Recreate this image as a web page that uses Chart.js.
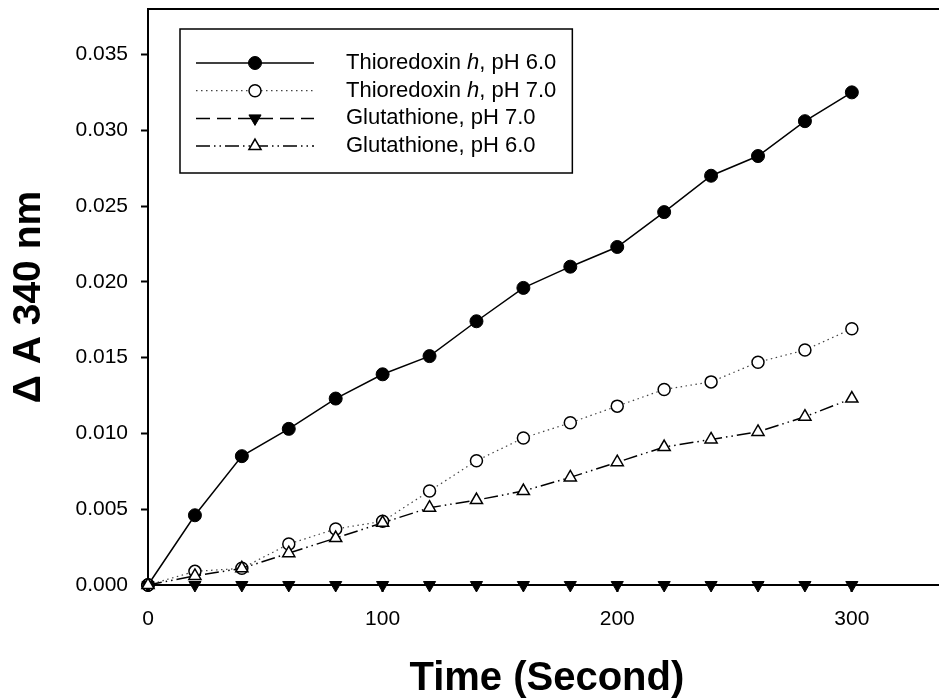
<!DOCTYPE html>
<html>
<head>
<meta charset="utf-8">
<script src="https://cdn.jsdelivr.net/npm/chart.js@4/dist/chart.umd.min.js"></script>
<style>
  html, body { margin: 0; padding: 0; background: #fff; overflow: hidden; }
  #wrap { width: 939px; height: 700px; overflow: hidden; position: relative; }
  canvas { display: block; }
</style>
</head>
<body>
<div id="wrap"><canvas id="c" width="960" height="700"></canvas></div>
<script>
// ---- data ----
const times   = [0, 20, 40, 60, 80, 100, 120, 140, 160, 180, 200, 220, 240, 260, 280, 300];
const trxPH6  = [0, 0.0046, 0.0085, 0.0103, 0.0123, 0.0139, 0.0151, 0.0174, 0.0196, 0.0210, 0.0223, 0.0246, 0.0270, 0.0283, 0.0306, 0.0325];
const trxPH7  = [0, 0.0009, 0.0011, 0.0027, 0.0037, 0.0042, 0.0062, 0.0082, 0.0097, 0.0107, 0.0118, 0.0129, 0.0134, 0.0147, 0.0155, 0.0169];
const gshPH7  = [0, 0, 0, 0, 0, 0, 0, 0, 0, 0, 0, 0, 0, 0, 0, 0];
const gshPH6  = [0, 0.0006, 0.0011, 0.0021, 0.0031, 0.0041, 0.0051, 0.0056, 0.0062, 0.0071, 0.0081, 0.0091, 0.0096, 0.0101, 0.0111, 0.0123];
const xTicks  = [0, 100, 200, 300];
const yTicks  = [0, 0.005, 0.010, 0.015, 0.020, 0.025, 0.030, 0.035];
const legendParts = [
  ['Thioredoxin ', 'h', ', pH 6.0'],
  ['Thioredoxin ', 'h', ', pH 7.0'],
  ['Glutathione, pH 7.0', '', ''],
  ['Glutathione, pH 6.0', '', '']
];
const xTitle = 'Time (Second)';
const yTitle = '\u0394 A 340 nm';

const FAM = "'Liberation Sans', Arial, Helvetica, sans-serif";
const LFS = 22;
const pts = arr => times.map((t, i) => ({ x: t, y: arr[i] }));

const legendPlugin = {
  id: 'boxLegend',
  afterDraw(chart) {
    const ctx = chart.ctx;
    const dsets = chart.data.datasets;
    ctx.save();
    let maxW = 0;
    legendParts.forEach(p => {
      ctx.font = LFS + 'px ' + FAM; let w = ctx.measureText(p[0]).width + ctx.measureText(p[2]).width;
      ctx.font = 'italic ' + LFS + 'px ' + FAM; w += ctx.measureText(p[1]).width;
      maxW = Math.max(maxW, w);
    });
    const bx = 180, by = 29, textX = 346;
    const bw = textX + maxW + 16 - bx, bh = 144;
    ctx.fillStyle = '#fff';
    ctx.fillRect(bx, by, bw, bh);
    ctx.setLineDash([]);
    ctx.lineWidth = 1.5;
    ctx.strokeStyle = '#000';
    ctx.strokeRect(bx, by, bw, bh);
    dsets.forEach((ds, i) => {
      const y = 63 + i * 27.7;
      ctx.save();
      ctx.setLineDash(ds.borderDash || []);
      ctx.lineWidth = ds.borderWidth;
      ctx.strokeStyle = ds.borderColor;
      ctx.beginPath(); ctx.moveTo(196, y); ctx.lineTo(314, y); ctx.stroke();
      ctx.restore();
      ctx.save();
      ctx.setLineDash([]);
      ctx.fillStyle = ds.pointBackgroundColor;
      ctx.strokeStyle = ds.pointBorderColor;
      ctx.lineWidth = ds.pointBorderWidth;
      Chart.helpers.drawPoint(ctx, {
        pointStyle: ds.pointStyle, radius: ds.pointRadius,
        rotation: ds.pointRotation || 0, borderWidth: ds.pointBorderWidth
      }, 255, y);
      ctx.restore();
      const p = legendParts[i];
      ctx.fillStyle = '#000';
      ctx.textBaseline = 'middle';
      ctx.textAlign = 'left';
      let x = textX;
      ctx.font = LFS + 'px ' + FAM; ctx.fillText(p[0], x, y); x += ctx.measureText(p[0]).width;
      ctx.font = 'italic ' + LFS + 'px ' + FAM; ctx.fillText(p[1], x, y); x += ctx.measureText(p[1]).width;
      ctx.font = LFS + 'px ' + FAM; ctx.fillText(p[2], x, y);
    });
    ctx.restore();
  }
};

const framePlugin = {
  id: 'frameTop',
  afterDraw(chart) {
    const { ctx, chartArea } = chart;
    ctx.save();
    ctx.strokeStyle = '#000';
    ctx.lineWidth = 2;
    ctx.setLineDash([]);
    ctx.beginPath();
    ctx.moveTo(chartArea.left - 1, chartArea.top);
    ctx.lineTo(chart.width, chartArea.top);
    ctx.stroke();
    ctx.restore();
  }
};

const common = { clip: false, fill: false, tension: 0, pointHoverRadius: 7 };

new Chart(document.getElementById('c'), {
  type: 'line',
  data: {
    datasets: [
      Object.assign({}, common, {
        label: 'Thioredoxin h, pH 6.0', data: pts(trxPH6), order: 4,
        borderColor: '#000', borderWidth: 1.5, borderDash: [],
        pointStyle: 'circle', pointRadius: 6.5, pointBackgroundColor: '#000', pointBorderColor: '#000', pointBorderWidth: 1
      }),
      Object.assign({}, common, {
        label: 'Thioredoxin h, pH 7.0', data: pts(trxPH7), order: 3,
        borderColor: '#444', borderWidth: 1.2, borderDash: [1.5, 3.5],
        pointStyle: 'circle', pointRadius: 6, pointBackgroundColor: '#fff', pointBorderColor: '#000', pointBorderWidth: 1.5
      }),
      Object.assign({}, common, {
        label: 'Glutathione, pH 7.0', data: pts(gshPH7), order: 2,
        borderColor: '#000', borderWidth: 1.5, borderDash: [14, 7],
        pointStyle: 'triangle', pointRotation: 180, pointRadius: 7, pointBackgroundColor: '#000', pointBorderColor: '#000', pointBorderWidth: 1
      }),
      Object.assign({}, common, {
        label: 'Glutathione, pH 6.0', data: pts(gshPH6), order: 1,
        borderColor: '#000', borderWidth: 1.5, borderDash: [14, 4, 1.5, 4, 1.5, 4],
        pointStyle: 'triangle', pointRadius: 7, pointBackgroundColor: '#fff', pointBorderColor: '#000', pointBorderWidth: 1.5
      })
    ]
  },
  options: {
    responsive: false,
    animation: false,
    devicePixelRatio: 1,
    events: [],
    layout: { padding: { top: 9, right: 14.3, left: 0, bottom: 0 } },
    plugins: { legend: { display: false }, tooltip: { enabled: false } },
    scales: {
      x: {
        type: 'linear', min: 0, max: 340,
        afterBuildTicks: s => { s.ticks = xTicks.map(v => ({ value: v })); },
        afterFit: s => { s.height = 115; s.paddingLeft = 0; s.paddingRight = 0; },
        grid: { drawOnChartArea: false, drawTicks: true, tickLength: 7, tickWidth: 2, color: '#000' },
        border: { display: true, color: '#000', width: 2 },
        ticks: { color: '#000', font: { family: FAM, size: 21 }, padding: 15, maxRotation: 0, autoSkip: false },
        title: { display: true, text: xTitle, color: '#000', font: { family: FAM, size: 40, weight: 'bold', lineHeight: 1 }, padding: { top: 0, bottom: 1 } }
      },
      y: {
        type: 'linear', min: 0, max: 0.038,
        afterBuildTicks: s => { s.ticks = yTicks.map(v => ({ value: v })); },
        afterFit: s => { s.width = 148; s.paddingTop = 0; s.paddingBottom = 0; },
        grid: { drawOnChartArea: false, drawTicks: true, tickLength: 7, tickWidth: 2, color: '#000' },
        border: { display: true, color: '#000', width: 2 },
        ticks: { color: '#000', font: { family: FAM, size: 21 }, padding: 13, autoSkip: false, callback: v => Number(v).toFixed(3) },
        title: { display: true, text: yTitle, color: '#000', font: { family: FAM, size: 39, weight: 'bold', lineHeight: 1 }, padding: { top: 10, bottom: 0 } }
      }
    }
  },
  plugins: [framePlugin, legendPlugin]
});
</script>
</body>
</html>
